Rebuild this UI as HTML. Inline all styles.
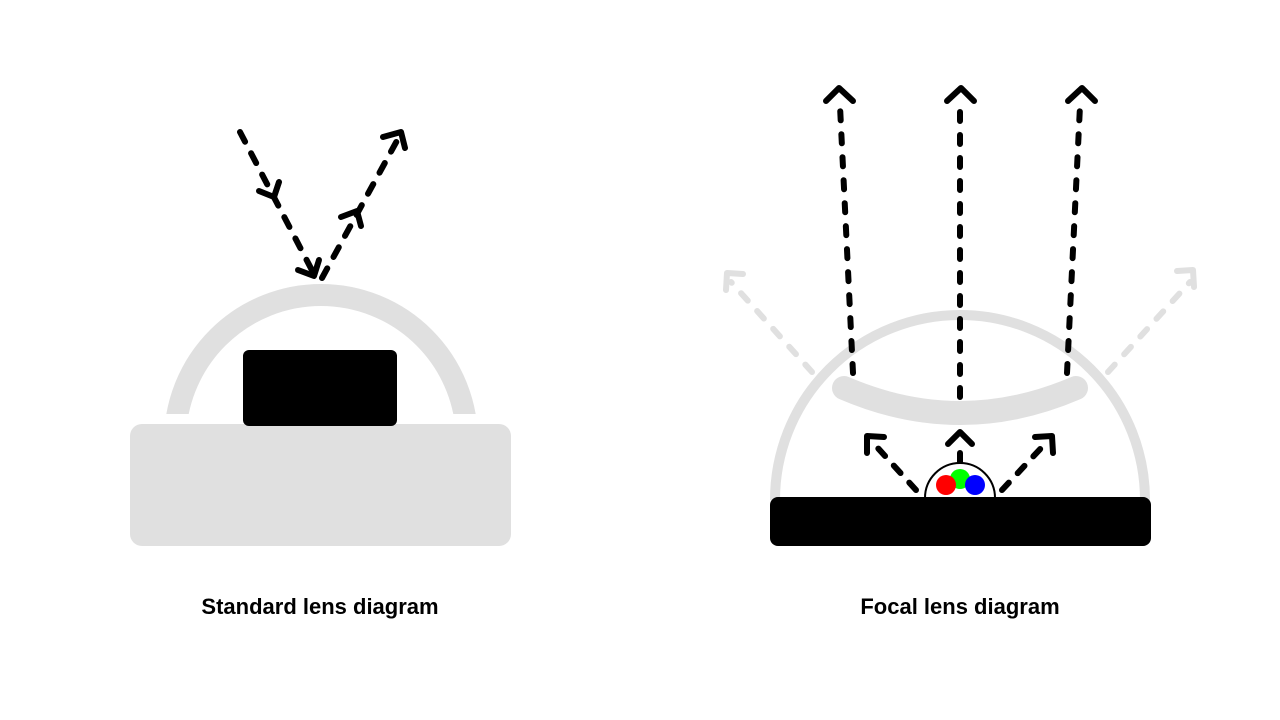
<!DOCTYPE html>
<html><head><meta charset="utf-8"><style>
html,body{margin:0;padding:0;background:#fff;}
svg{display:block;}
text{font-family:"Liberation Sans",sans-serif;font-weight:bold;font-size:22px;}
</style></head><body>
<svg width="1280" height="720" viewBox="0 0 1280 720">
<defs><clipPath id="c"><rect x="0" y="0" width="640" height="414"/></clipPath></defs>
<!-- LEFT -->
<rect x="130" y="424" width="381" height="122" rx="12" fill="#e0e0e0"/>
<path d="M175 441 A146 146 0 0 1 467 441" fill="none" stroke="#e0e0e0" stroke-width="22" clip-path="url(#c)"/>
<rect x="243" y="350" width="154" height="76" rx="6" fill="#000"/>
<g fill="none" stroke="#000" stroke-width="6" stroke-linecap="round" stroke-linejoin="round">
 <path d="M240 132 L316 278" stroke-dasharray="11 13"/>
 <path d="M322 278 L399 137" stroke-dasharray="11 13"/>
 <path d="M259 191 L274 197 L279 182"/>
 <path d="M298 270 L314 276 L319 260"/>
 <path d="M341 217 L357 211 L361 226"/>
 <path d="M383 137 L401 132 L405 148"/>
</g>
<text x="320" y="614" text-anchor="middle">Standard lens diagram</text>
<!-- RIGHT -->
<path d="M775 500 A185 185 0 0 1 1145 500" fill="none" stroke="#e0e0e0" stroke-width="10"/>
<path d="M844 388 Q960 438 1076 388" fill="none" stroke="#e0e0e0" stroke-width="24" stroke-linecap="round"/>
<g fill="none" stroke="#e0e0e0" stroke-width="6" stroke-linecap="round" stroke-linejoin="round">
 <path d="M812 372 L731 282" stroke-dasharray="10 14"/>
 <path d="M1108 372 L1190 282" stroke-dasharray="10 14"/>
 <path d="M726 290 L727 273 L743 274"/>
 <path d="M1177 271 L1193 270 L1194 287"/>
</g>
<g fill="none" stroke="#000" stroke-width="6" stroke-linecap="round" stroke-linejoin="round">
 <path d="M853 373 L840 106" stroke-dasharray="9 14"/>
 <path d="M960 397 L960 106" stroke-dasharray="9 14"/>
 <path d="M1067 373 L1080 106" stroke-dasharray="9 14"/>
 <path d="M826 101 L839 88 L853 101"/>
 <path d="M947 101 L961 88 L974 101"/>
 <path d="M1068 101 L1082 88 L1095 101"/>
 <path d="M916 490 L876 446" stroke-dasharray="10 13"/>
 <path d="M1002 490 L1043 446" stroke-dasharray="10 13"/>
 <path d="M960 468 L960 453"/>
 <path d="M867 453 L867 436 L884 437"/>
 <path d="M1035 437 L1052 436 L1053 453"/>
 <path d="M948 444 L960 432 L972 444"/>
</g>
<path d="M925 498 A35 35 0 0 1 995 498" fill="#fff" stroke="#000" stroke-width="2"/>
<circle cx="960" cy="479" r="10" fill="#00ff00"/>
<circle cx="946" cy="485" r="10" fill="#ff0000"/>
<circle cx="975" cy="485" r="10" fill="#0000ff"/>
<rect x="770" y="497" width="381" height="49" rx="8" fill="#000"/>
<text x="960" y="614" text-anchor="middle">Focal lens diagram</text>
</svg>
</body></html>
